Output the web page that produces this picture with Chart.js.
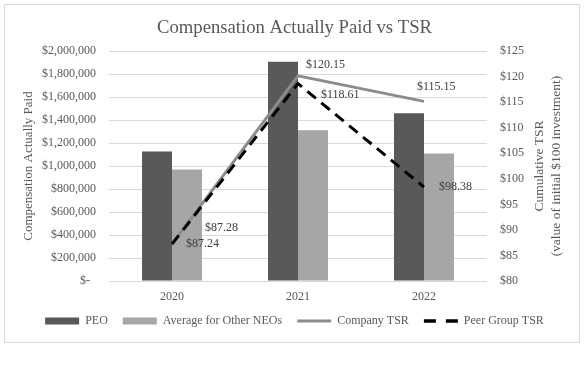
<!DOCTYPE html>
<html><head><meta charset="utf-8">
<script src="https://cdn.jsdelivr.net/npm/chart.js@4/dist/chart.umd.min.js"></script>
<style>html,body{margin:0;padding:0;background:#fff;}</style>
</head><body>
<canvas id="c" width="585" height="369" style="display:block;width:585px;height:369px"></canvas>
<script>
// ---- data ----
const categories = ['2020', '2021', '2022'];
const seriesNames = ['PEO', 'Average for Other NEOs', 'Company TSR', 'Peer Group TSR'];
const peoValues = [1127000, 1906000, 1460000];
const otherNeoValues = [969000, 1311000, 1109000];
const companyTsr = [87.28, 120.15, 115.15];
const peerTsr = [87.24, 118.61, 98.38];
const leftTickLabels = ['$-  ', '$200,000', '$400,000', '$600,000', '$800,000', '$1,000,000',
  '$1,200,000', '$1,400,000', '$1,600,000', '$1,800,000', '$2,000,000'];
const rightTickLabels = ['$80', '$85', '$90', '$95', '$100', '$105', '$110', '$115', '$120', '$125'];
const leftAxisTitle = 'Compensation Actually Paid';
const rightAxisTitle = ['Cumulative TSR', '(value of initial $100 investment)'];
const chartTitle = 'Compensation Actually Paid vs TSR';

// ---- style ----
const FONT = '"Liberation Serif", "Times New Roman", serif';
const TXT = '#595959';
const LABEL_TXT = '#404040';
const GRID = '#d9d9d9';
const C_PEO = '#595959', C_NEO = '#a6a6a6', C_COMP = '#8c8c8c', C_PEER = '#000000';
// data-label offsets (pixels from point) for [company, peer]
const labelOffsets = [
  [{dx: 33, dy: -16}, {dx: 8, dy: -11}, {dx: -7, dy: -15}],
  [{dx: 14, dy: 0}, {dx: 23, dy: 11}, {dx: 15, dy: 0}]
];

const bgPlugin = {
  id: 'bg',
  beforeDraw(chart) {
    const ctx = chart.ctx;
    ctx.save();
    ctx.fillStyle = '#fff';
    ctx.fillRect(0, 0, chart.width, chart.height);
    ctx.strokeStyle = GRID;
    ctx.lineWidth = 1;
    ctx.strokeRect(4.5, 4.5, 575, 338);
    ctx.restore();
  }
};

const labelPlugin = {
  id: 'dlabels',
  afterDatasetsDraw(chart) {
    const ctx = chart.ctx;
    ctx.save();
    ctx.font = '12px ' + FONT;
    ctx.fillStyle = LABEL_TXT;
    ctx.textAlign = 'left';
    ctx.textBaseline = 'middle';
    [2, 3].forEach((di, k) => {
      const meta = chart.getDatasetMeta(di);
      const vals = chart.data.datasets[di].data;
      meta.data.forEach((pt, i) => {
        const o = labelOffsets[k][i];
        ctx.fillText('$' + vals[i].toFixed(2), pt.x + o.dx, pt.y + o.dy);
      });
    });
    ctx.restore();
  },
  afterDraw(chart) {
    const ctx = chart.ctx;
    const s = chart.scales.y1;
    const cy = (s.top + s.bottom) / 2;
    ctx.save();
    ctx.font = '13.5px ' + FONT;
    ctx.fillStyle = TXT;
    ctx.textAlign = 'center';
    ctx.textBaseline = 'middle';
    ctx.translate(539, cy);
    ctx.rotate(-Math.PI / 2);
    rightAxisTitle.forEach((t, i) => ctx.fillText(t, 0, i * 17));
    ctx.restore();
  }
};

new Chart(document.getElementById('c'), {
  data: {
    labels: categories,
    datasets: [
      {type: 'bar', label: seriesNames[0], data: peoValues, backgroundColor: C_PEO, yAxisID: 'y', order: 3,
       categoryPercentage: 0.476, barPercentage: 1.0},
      {type: 'bar', label: seriesNames[1], data: otherNeoValues, backgroundColor: C_NEO, yAxisID: 'y', order: 3,
       categoryPercentage: 0.476, barPercentage: 1.0},
      {type: 'line', label: seriesNames[2], data: companyTsr, borderColor: C_COMP, borderWidth: 3,
       pointRadius: 0, yAxisID: 'y1', order: 2, tension: 0},
      {type: 'line', label: seriesNames[3], data: peerTsr, borderColor: C_PEER, borderWidth: 3,
       borderDash: [11, 7], pointRadius: 0, yAxisID: 'y1', order: 1, tension: 0}
    ]
  },
  options: {
    responsive: false,
    animation: false,
    devicePixelRatio: 1,
    layout: {padding: {left: 8, right: 4, top: 0, bottom: 32}},
    plugins: {
      tooltip: {enabled: false},
      title: {
        display: true, text: chartTitle, color: TXT,
        font: {family: FONT, size: 18.7, weight: 'normal'},
        padding: {top: 17, bottom: 11.6}
      },
      legend: {
        position: 'bottom',
        labels: {
          font: {family: FONT, size: 12},
          color: TXT,
          usePointStyle: true,
          pointStyleWidth: 34,
          boxHeight: 7,
          padding: 15,
          generateLabels(chart) {
            const ds = chart.data.datasets;
            return [
              {text: ds[0].label, fillStyle: C_PEO, strokeStyle: C_PEO, lineWidth: 0, pointStyle: 'rect', fontColor: TXT, datasetIndex: 0},
              {text: ds[1].label, fillStyle: C_NEO, strokeStyle: C_NEO, lineWidth: 0, pointStyle: 'rect', fontColor: TXT, datasetIndex: 1},
              {text: ds[2].label, fillStyle: C_COMP, strokeStyle: C_COMP, lineWidth: 3, pointStyle: 'line', fontColor: TXT, datasetIndex: 2},
              {text: ds[3].label, fillStyle: C_PEER, strokeStyle: C_PEER, lineWidth: 3.5, lineDash: [12, 10], pointStyle: 'line', fontColor: TXT, datasetIndex: 3}
            ];
          }
        }
      }
    },
    scales: {
      x: {
        grid: {display: false, drawTicks: false},
        border: {display: false},
        ticks: {color: TXT, font: {family: FONT, size: 12}, padding: 9},
        afterFit(s) { s.height = 19; }
      },
      y: {
        position: 'left',
        min: 0, max: 2000000,
        ticks: {
          stepSize: 200000, color: TXT, font: {family: FONT, size: 12}, padding: 13,
          callback: (v, i) => leftTickLabels[i]
        },
        grid: {color: GRID, lineWidth: 1, drawTicks: false},
        border: {display: false},
        title: {display: true, text: leftAxisTitle, color: TXT, font: {family: FONT, size: 13}, padding: {top: 13.2, bottom: 0}},
        afterFit(s) { s.width = 101; }
      },
      y1: {
        position: 'right',
        min: 80, max: 125,
        ticks: {
          stepSize: 5, color: TXT, font: {family: FONT, size: 12}, padding: 13,
          callback: (v, i) => rightTickLabels[i]
        },
        grid: {display: false, drawTicks: false},
        border: {display: false},
        afterFit(s) { s.width = 94; }
      }
    }
  },
  plugins: [bgPlugin, labelPlugin]
});
</script>
</body></html>
